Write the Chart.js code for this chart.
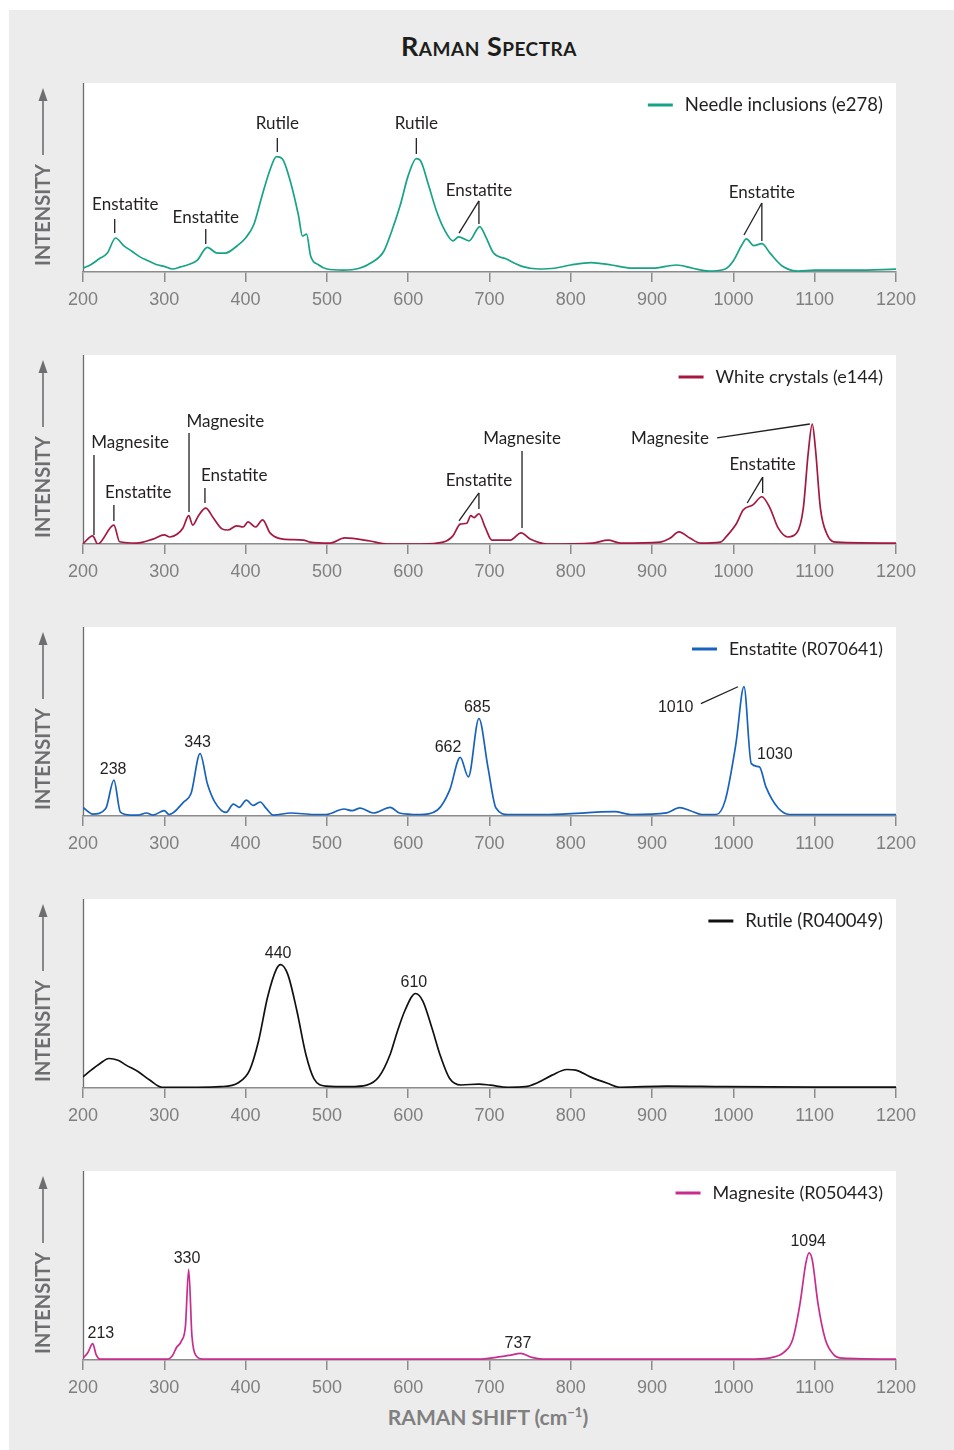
<!DOCTYPE html>
<html>
<head>
<meta charset="utf-8">
<title>Raman Spectra</title>
<script src="https://cdn.jsdelivr.net/npm/chart.js@4.4.1/dist/chart.umd.min.js"></script>
<style>
  html, body { margin: 0; padding: 0; background: #fff; }
  body { position: relative; width: 954px; height: 1450px; overflow: hidden; font-family: Lato, sans-serif; }
  #bg { position: absolute; left: 9px; top: 10px; width: 945px; height: 1440px; background: #ececec; }
  #title { position: absolute; left: 289px; width: 400px; top: 29px; text-align: center;
           font: 700 27px Lato, sans-serif; font-variant: small-caps; letter-spacing: 0.5px; color: #1d1d1b; }
  #xtitle { position: absolute; left: 288px; width: 400px; top: 1404px; text-align: center;
            font: 700 21px Lato, sans-serif; color: #808080; }
  #xtitle sup { font-size: 13px; }
  canvas { position: absolute; left: 0; }
</style>
</head>
<body>
<div id="bg"></div>
<div id="title">Raman Spectra</div>
<canvas id="c1" width="954" height="232"></canvas>
<canvas id="c2" width="954" height="232"></canvas>
<canvas id="c3" width="954" height="232"></canvas>
<canvas id="c4" width="954" height="232"></canvas>
<canvas id="c5" width="954" height="232"></canvas>
<div id="xtitle">RAMAN SHIFT (cm<sup>−1</sup>)</div>

<script>
// x axis tick labels (Raman shift, cm-1)
const shiftTicks = [200, 300, 400, 500, 600, 700, 800, 900, 1000, 1100, 1200];

// needle inclusions (e278)
const needleShift = [200,210,220,230,240,250,260,270,280,290, 300,310,320,330,340,353,365,375,390,400,
  410,420,430,438,445,455,465,470,475,480, 490,500,520,540,555,570,580,590,600,610,
  615,625,635,645,655,662,675,688,695,705, 720,740,760,780,800,825,850,875,900,930,
  950,970,990,1000,1010,1016,1025,1035,1045,1060, 1080,1100,1150,1200];
const needleIntensity = [2,4,7,10,18,14,11,8,6,4, 3,1.6,2.7,4,6,13,10,10,14,18,
  25,40,54,61,60,48,30,19,20,8.5, 3.7,1.6,1,2,5,11,22,35,51,60,
  59,46,32,22,16.5,18.6,16.5,24,19,10, 7,3,1.6,2,3.7,5,3.7,2,2,3.7,
  2,0.5,1.6,6,14,17.5,14,15,10,3.2, 0.5,1,1,1.5];

// white crystals (e144)
const whiteShift = [200,212,218,238,245,266,286,300,307,316, 323,330,335,342,351,360,371,378,389,397,
  403,412,421,430,446,471,479,504,522,553, 574,615,643,655,664,672,677,681,687,695,
  703,725,739,750,771,827,846,861,910,922, 933,947,959,984,992,1004,1012,1024,1035,1045,
  1055,1067,1078,1086,1092,1097,1101,1107,1115,1127, 1200];
const whiteIntensity = [0.2,4.3,0,10,1.2,0.5,2.6,4.8,3.7,5.3, 8.5,15,10,15,19,14,8,7.4,9.6,9,
  11.7,9,12.8,5.9,2.6,2.1,1,0.5,3.2,1.6, 0,0,1,4.3,10.5,11,15,14,16,8.5,
  2,2,5.9,2.6,0,0.5,2,0.5,1,3, 6.4,3,0.5,1,4.3,11,18,20.7,25,19,
  8.5,3.7,5.9,19,48,63.5,50,19,5.3,1, 0.5];

// enstatite reference (R070641)
const enstatiteShift = [200,212,228,238,246,258,268,278,286,300, 306,324,333,344,353,362,376,385,392,401,
  409,418,425,434,456,484,499,521,531,541, 557,578,589,614,636,651,664,674,687,698,
  708,723,773,854,874,918,934,947,961,979, 990,1003,1013,1022,1032,1040,1055,1069,1200];
const enstatiteIntensity = [4.5,1,4,19,2,0.5,0.5,1.6,0.5,2.8, 0.8,7.5,12,33,17,7.5,1.9,6.3,4.6,8.4,
  5.6,7.4,4.2,0.5,1.6,0.8,0.8,3.7,2.8,4.2, 1.6,4.6,1.6,0.8,3.2,13.7,31,20.7,51.6,26,
  4.2,0.8,0.8,2.3,0.8,1.7,4.4,2.8,0.8,0.8, 8.4,38,68.4,27.7,26,15.4,4.2,0.8,0.8];

// rutile reference (R040049)
const rutileShift = [200,210,221,232,243,253,268,282,297,311, 340,369,391,405,416,427,438,443,452,463,
  474,484,499,528,549,564,578,586,596,609, 618,629,640,651,665,687,701,723,744,759,
  777,795,806,824,845,860,918,990,1100,1200];
const rutileIntensity = [5.9,9.5,13,15.6,14.7,12.1,8.6,4.2,0.4,0.4, 0.4,0.7,2.8,9.5,25,48,63,65.3,60,41,
  18,5,1,0.7,1.5,5.9,18,29,41,50, 46,32,16.5,5,1.6,2.1,1.5,0.4,0.7,2.8,
  6.8,9.8,9.5,5.9,2.5,0.4,1,0.7,0.5,0.5];

// magnesite reference (R050443)
const magnesiteShift = [200,206,212,216,221,304,310,315,321,326, 330,334,339,347,687,708,726,738,752,766,
  1026,1048,1062,1073,1082,1089,1093,1097,1104,1113, 1123,1134,1200];
const magnesiteIntensity = [0.9,4,8.7,3,0.5,0.5,2.3,6.6,10,18, 48,12.7,2.3,0.5,0.5,1.4,2.6,3.5,1.4,0.5,
  0.5,1.4,4,11,30,51,56.7,53,30,11, 3,1,0.5];

const seriesNames = ['Needle inclusions (e278)', 'White crystals (e144)', 'Enstatite (R070641)',
  'Rutile (R040049)', 'Magnesite (R050443)'];

// peak notes, in data units: text position and leader lines
const needleNotes = [
  {text: 'Enstatite', x: 252, y: 36.5, lines: [[239, 28, 239, 20.6]]},
  {text: 'Enstatite', x: 351, y: 29.6, lines: [[351, 22.8, 351, 14.8]]},
  {text: 'Rutile', x: 439, y: 79.4, lines: [[439, 70.9, 439, 63.5]]},
  {text: 'Rutile', x: 610, y: 79.4, lines: [[610, 70.9, 610, 62.4]]},
  {text: 'Enstatite', x: 687, y: 43.9, lines: [[687, 37.6, 662.5, 20.6], [687, 37.6, 687, 25.4]]},
  {text: 'Enstatite', x: 1035, y: 42.9, lines: [[1035, 36.5, 1013, 19.6], [1035, 36.5, 1035, 16.4]]}
];
const whiteNotes = [
  {text: 'Magnesite', x: 258, y: 54.5, lines: [[213.5, 47.1, 213.5, 4.8]]},
  {text: 'Enstatite', x: 268, y: 28, lines: [[238, 20.6, 238, 12.2]]},
  {text: 'Magnesite', x: 375, y: 65.6, lines: [[330.4, 58.7, 330.4, 16.9]]},
  {text: 'Enstatite', x: 386, y: 37, lines: [[350, 29.6, 350, 21.7]]},
  {text: 'Enstatite', x: 687, y: 34.4, lines: [[687, 27, 662.5, 12.2], [687, 27, 687, 18.5]]},
  {text: 'Magnesite', x: 740, y: 56.6, lines: [[740, 49.2, 740, 8.5]]},
  {text: 'Magnesite', x: 922, y: 56.6, lines: [[980, 56.1, 1094, 63.5]]},
  {text: 'Enstatite', x: 1036, y: 42.9, lines: [[1036, 35.4, 1017, 21.7], [1036, 35.4, 1036, 27]]}
];
const enstatiteNotes = [
  {text: '238', x: 237, y: 25.3, lines: []},
  {text: '343', x: 341, y: 39.5, lines: []},
  {text: '662', x: 649, y: 36.8, lines: []},
  {text: '685', x: 685, y: 58.4, lines: []},
  {text: '1010', x: 929, y: 58.4, lines: [[960, 59.5, 1005.6, 68.4]]},
  {text: '1030', x: 1051, y: 33.2, lines: []}
];
const rutileNotes = [
  {text: '440', x: 440, y: 72.1, lines: []},
  {text: '610', x: 607, y: 56.8, lines: []}
];
const magnesiteNotes = [
  {text: '213', x: 222, y: 14.7, lines: []},
  {text: '330', x: 328, y: 54.5, lines: []},
  {text: '737', x: 735, y: 9.4, lines: []},
  {text: '1094', x: 1092, y: 63.4, lines: []}
];

const CANVAS_H = 232;
const PLOT_H = 189;

const wordFont = '17px Lato, sans-serif';
const numFont = '16px "Liberation Sans", Arial, sans-serif';

const panels = [
  {id: 'c1', top: 83,   color: '#17a386', xs: needleShift, ys: needleIntensity, notes: needleNotes, font: wordFont, legendSize: 18.5},
  {id: 'c2', top: 355,  color: '#a6173f', xs: whiteShift, ys: whiteIntensity, notes: whiteNotes, font: wordFont, legendSize: 18},
  {id: 'c3', top: 627,  color: '#1862be', xs: enstatiteShift, ys: enstatiteIntensity, notes: enstatiteNotes, font: numFont, legendSize: 17.5},
  {id: 'c4', top: 899,  color: '#111111', xs: rutileShift, ys: rutileIntensity, notes: rutileNotes, font: numFont, legendSize: 18.5},
  {id: 'c5', top: 1171, color: '#c92c8c', xs: magnesiteShift, ys: magnesiteIntensity, notes: magnesiteNotes, font: numFont, legendSize: 18}
];

const decor = {
  id: 'decor',
  beforeDraw(chart) {
    const {ctx, chartArea: a} = chart;
    ctx.save();
    ctx.fillStyle = '#ffffff';
    ctx.fillRect(a.left, a.top, a.right - a.left, a.bottom - a.top);

    // y axis line
    ctx.strokeStyle = '#6d6e71';
    ctx.lineWidth = 1.3;
    ctx.beginPath();
    ctx.moveTo(a.left + 0.5, a.top);
    ctx.lineTo(a.left + 0.5, a.bottom);
    ctx.stroke();

    // INTENSITY arrow + label
    const ax = 43;
    ctx.lineWidth = 1.6;
    ctx.beginPath();
    ctx.moveTo(ax, a.top + 72);
    ctx.lineTo(ax, a.top + 14);
    ctx.stroke();
    ctx.fillStyle = '#6d6e71';
    ctx.beginPath();
    ctx.moveTo(ax, a.top + 5);
    ctx.lineTo(ax - 4.5, a.top + 18);
    ctx.lineTo(ax + 4.5, a.top + 18);
    ctx.closePath();
    ctx.fill();
    ctx.translate(ax + 1, a.top + 132);
    ctx.rotate(-Math.PI / 2);
    ctx.font = '700 20px Lato, sans-serif';
    ctx.textAlign = 'center';
    ctx.textBaseline = 'middle';
    ctx.fillText('INTENSITY', 0, 0);
    ctx.restore();
  },
  afterDatasetsDraw(chart, args, opts) {
    const {ctx, chartArea: a, scales: {x, y}} = chart;
    ctx.save();
    ctx.fillStyle = '#231f20';
    ctx.strokeStyle = '#231f20';
    ctx.lineWidth = 1.3;
    ctx.font = opts.font;
    ctx.textAlign = 'center';
    ctx.textBaseline = 'middle';
    (opts.notes || []).forEach(n => {
      ctx.fillText(n.text, x.getPixelForValue(n.x), y.getPixelForValue(n.y) + 1.5);
      n.lines.forEach(l => {
        ctx.beginPath();
        ctx.moveTo(x.getPixelForValue(l[0]), y.getPixelForValue(l[1]));
        ctx.lineTo(x.getPixelForValue(l[2]), y.getPixelForValue(l[3]));
        ctx.stroke();
      });
    });

    // legend, top right
    const ds = chart.data.datasets[0];
    ctx.font = opts.legendSize + 'px Lato, sans-serif';
    ctx.textAlign = 'left';
    const w = ctx.measureText(ds.label).width;
    const tx = a.right - 13 - w;
    const ty = a.top + 22;
    ctx.fillText(ds.label, tx, ty);
    ctx.strokeStyle = ds.borderColor;
    ctx.lineWidth = 3;
    ctx.beginPath();
    ctx.moveTo(tx - 37, ty);
    ctx.lineTo(tx - 12, ty);
    ctx.stroke();
    ctx.restore();
  }
};

panels.forEach((p, i) => {
  const cv = document.getElementById(p.id);
  cv.style.top = p.top + 'px';
  new Chart(cv.getContext('2d'), {
    type: 'line',
    data: {
      datasets: [{
        label: seriesNames[i],
        data: p.xs.map((v, k) => ({x: v, y: p.ys[k]})),
        borderColor: p.color,
        borderWidth: 1.7,
        pointRadius: 0,
        fill: false,
        cubicInterpolationMode: 'monotone'
      }]
    },
    options: {
      responsive: false,
      animation: false,
      devicePixelRatio: 1,
      layout: {padding: {left: 83, right: 58, top: 0, bottom: 0}},
      plugins: {
        legend: {display: false},
        tooltip: {enabled: false},
        decor: {notes: p.notes, font: p.font, legendSize: p.legendSize}
      },
      scales: {
        x: {
          type: 'linear',
          min: 200,
          max: 1200,
          afterBuildTicks: s => { s.ticks = shiftTicks.map(v => ({value: v})); },
          afterFit: s => { s.height = CANVAS_H - PLOT_H; },
          grid: {drawOnChartArea: false, drawTicks: true, tickLength: 10, color: '#8c8c8c', lineWidth: 1.5},
          border: {color: '#8c8c8c', width: 1.5},
          ticks: {
            color: '#7f7f7f',
            font: {family: '"Liberation Sans", Arial, sans-serif', size: 18},
            padding: 7,
            maxRotation: 0,
            autoSkip: false,
            callback: v => String(v)
          }
        },
        y: {display: false, min: 0, max: 100}
      }
    },
    plugins: [decor]
  });
});
</script>
</body>
</html>
